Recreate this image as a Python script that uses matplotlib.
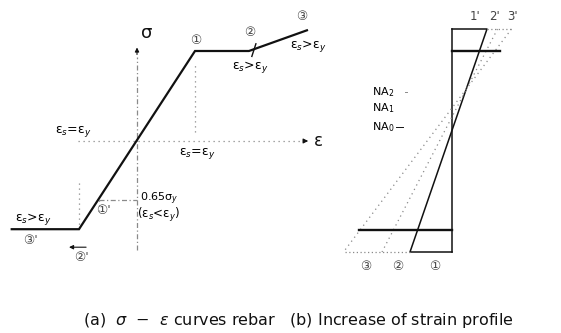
"""
Rebar sigma-epsilon curve (a) and growth of the strain profile (b), redrawn as a schematic.
Left panel in units of eps/eps_y and sigma/sigma_y, right panel strain vs. depth (0 top, 1 bottom).
"""
import matplotlib
matplotlib.use("Agg")
import matplotlib.pyplot as plt

plt.rcParams["font.family"] = ["DejaVu Sans", "Noto Sans CJK SC"]
plt.rcParams["mathtext.fontset"] = "dejavusans"

# (a) bilinear rebar curve: 3' -> corner -> origin -> yield 1 -> 2 -> 3
CURVE_EPS = [-2.16, -1.0, 1.0, 1.93, 2.93]
CURVE_SIG = [-0.98, -0.98, 1.0, 1.0, 1.23]
PARTIAL = 0.65          # 0.65 sigma_y point on the compression branch

# (b) strain profiles: strain at top / bottom fibre for stages 1, 2, 3
TOP_STRAIN = [1.0, 1.3, 1.7]
BOT_STRAIN = [-1.2, -2.0, -3.1]
BAR_DEPTH = [0.099, 0.901]          # compression / tension rebar level
BAR_STRAIN = [1.37, -2.66]

INK = "#111111"
GREY = "#8a8a8a"
NUM = "#444444"

W, H = 561, 333
fig = plt.figure(figsize=(W / 100, H / 100), dpi=100)
fig.patch.set_facecolor("white")


def px_axes(x0, x1, y0, y1):
    # axes placed in figure pixels (y from the top)
    return fig.add_axes([x0 / W, 1 - y1 / H, (x1 - x0) / W, (y1 - y0) / H])


EQ = "ε$_s$=ε$_y$"
GT = "ε$_s$>ε$_y$"

# ---------------- (a) sigma - epsilon ----------------
axa = px_axes(0, 340, 0, 290)
axa.set_xlim(-137 / 58, 203 / 58)
axa.set_ylim(-149 / 90, 141 / 90)
axa.axis("off")

# axes of the diagram
axa.plot([-1.02, 2.88], [0, 0], ls=(0, (1, 3)), color=GREY, lw=0.9)
axa.annotate("", xy=(3.0, 0), xytext=(2.82, 0),
             arrowprops=dict(arrowstyle="-|>", color=INK, lw=0.8, mutation_scale=7))
axa.plot([0, 0], [-1.21, 0.93], ls=(0, (4, 2, 1, 2)), color=GREY, lw=0.9)
axa.annotate("", xy=(0, 1.07), xytext=(0, 0.93),
             arrowprops=dict(arrowstyle="-|>", color=INK, lw=0.8, mutation_scale=6))

# helper lines
axa.plot([CURVE_EPS[2], CURVE_EPS[2]], [0.1, CURVE_SIG[2] - 0.12], ls=(0, (1, 3)), color=GREY, lw=0.9)
axa.plot([CURVE_EPS[1], CURVE_EPS[1]], [-0.47, CURVE_SIG[1]], ls=(0, (1, 3)), color=GREY, lw=0.9)
axa.plot([-PARTIAL, 0], [-PARTIAL, -PARTIAL], ls=(0, (4, 2, 1, 2)), color=GREY, lw=0.9)
axa.plot([-PARTIAL, -PARTIAL], [-PARTIAL, -0.8], ls=(0, (1, 3)), color=GREY, lw=0.9)

# the curve
axa.plot(CURVE_EPS, CURVE_SIG, color=INK, lw=1.6, solid_joinstyle="miter")
axa.plot([CURVE_EPS[3] + 0.05, CURVE_EPS[3] + 0.12], [0.94, 1.08], color=INK, lw=1.0)

fs = 9
axa.text(0.07, 1.2, "σ", fontsize=13, ha="left", va="center", color=INK)
axa.text(3.05, 0, "ε", fontsize=12, ha="left", va="center", color=INK)
axa.text(-1.10, 0.11, EQ, fontsize=fs, ha="center", va="center")
axa.text(1.03, -0.14, EQ, fontsize=fs, ha="center", va="center")
axa.text(1.02, 1.12, "①", fontsize=9, ha="center", va="center", color=NUM)
axa.text(1.95, 1.2, "②", fontsize=9, ha="center", va="center", color=NUM)
axa.text(2.84, 1.38, "③", fontsize=9, ha="center", va="center", color=NUM)
axa.text(1.95, 0.82, GT, fontsize=fs, ha="center", va="center")
axa.text(2.95, 1.05, GT, fontsize=fs, ha="center", va="center")
axa.text(0.05, -0.64, "0.65σ$_y$", fontsize=8, ha="left", va="center")
axa.text(0.0, -0.82, "(ε$_s$<ε$_y$)", fontsize=8.5, ha="left", va="center")
axa.text(-0.57, -0.77, "①'", fontsize=9, ha="center", va="center", color=NUM)
axa.text(-1.79, -0.87, GT, fontsize=fs, ha="center", va="center")
axa.text(-1.83, -1.11, "③'", fontsize=9, ha="center", va="center", color=NUM)
axa.text(-0.95, -1.29, "②'", fontsize=9, ha="center", va="center", color=NUM)
axa.annotate("", xy=(-1.22, -1.18), xytext=(-0.83, -1.18),
             arrowprops=dict(arrowstyle="-|>", color=INK, lw=0.8, mutation_scale=6))

# ---------------- (b) strain profile ----------------
axb = px_axes(340, 561, 0, 290)
axb.set_xlim(-112 / 35, 109 / 35)
axb.set_ylim(261 / 223, -29 / 223)
axb.axis("off")

# section outline (zero strain line) and profile 1
axb.plot([0, 0], [0, 1], color=INK, lw=1.1)
axb.plot([0, TOP_STRAIN[0], BOT_STRAIN[0], 0], [0, 0, 1, 1], color=INK, lw=1.1)
# profiles 2, 3 dotted
for t, b in zip(TOP_STRAIN[1:], BOT_STRAIN[1:]):
    axb.plot([t, b], [0, 1], ls=(0, (1, 3)), color=GREY, lw=0.9)
axb.plot([TOP_STRAIN[0], TOP_STRAIN[2]], [0, 0], ls=(0, (1, 2)), color=GREY, lw=0.9)
axb.plot([BOT_STRAIN[0], BOT_STRAIN[2]], [1, 1], ls=(0, (1, 2)), color=GREY, lw=0.9)
# rebar levels
axb.plot([0, BAR_STRAIN[0]], [BAR_DEPTH[0]] * 2, color=INK, lw=1.7)
axb.plot([0, BAR_STRAIN[1]], [BAR_DEPTH[1]] * 2, color=INK, lw=1.7)

for i, t in enumerate(TOP_STRAIN):
    axb.text([0.66, 1.2, 1.72][i], -0.058, f"{i + 1}'", fontsize=8.5, ha="center", va="center",
             color=NUM)
for i, lab in enumerate(["①", "②", "③"]):
    axb.text([-0.49, -1.54, -2.46][i], 1.067, lab, fontsize=9, ha="center", va="center",
             color=NUM)
axb.text(-2.29, 0.283, "NA$_2$", fontsize=8, ha="left", va="center")
axb.text(-2.29, 0.354, "NA$_1$", fontsize=8, ha="left", va="center")
axb.text(-2.29, 0.439, "NA$_0$", fontsize=8, ha="left", va="center")
axb.plot([-1.6, -1.4], [0.439, 0.439], color=INK, lw=0.7)
axb.plot([-1.35, -1.3], [0.283, 0.283], color=GREY, lw=0.7)

fig.text(298 / W, 1 - 320 / H,
         r"(a)  $\sigma$  $-$  $\varepsilon$ curves rebar   (b) Increase of strain profile",
         fontsize=11.5, ha="center", va="center", color=INK)

fig.savefig("out.png", dpi=100, facecolor="white")
